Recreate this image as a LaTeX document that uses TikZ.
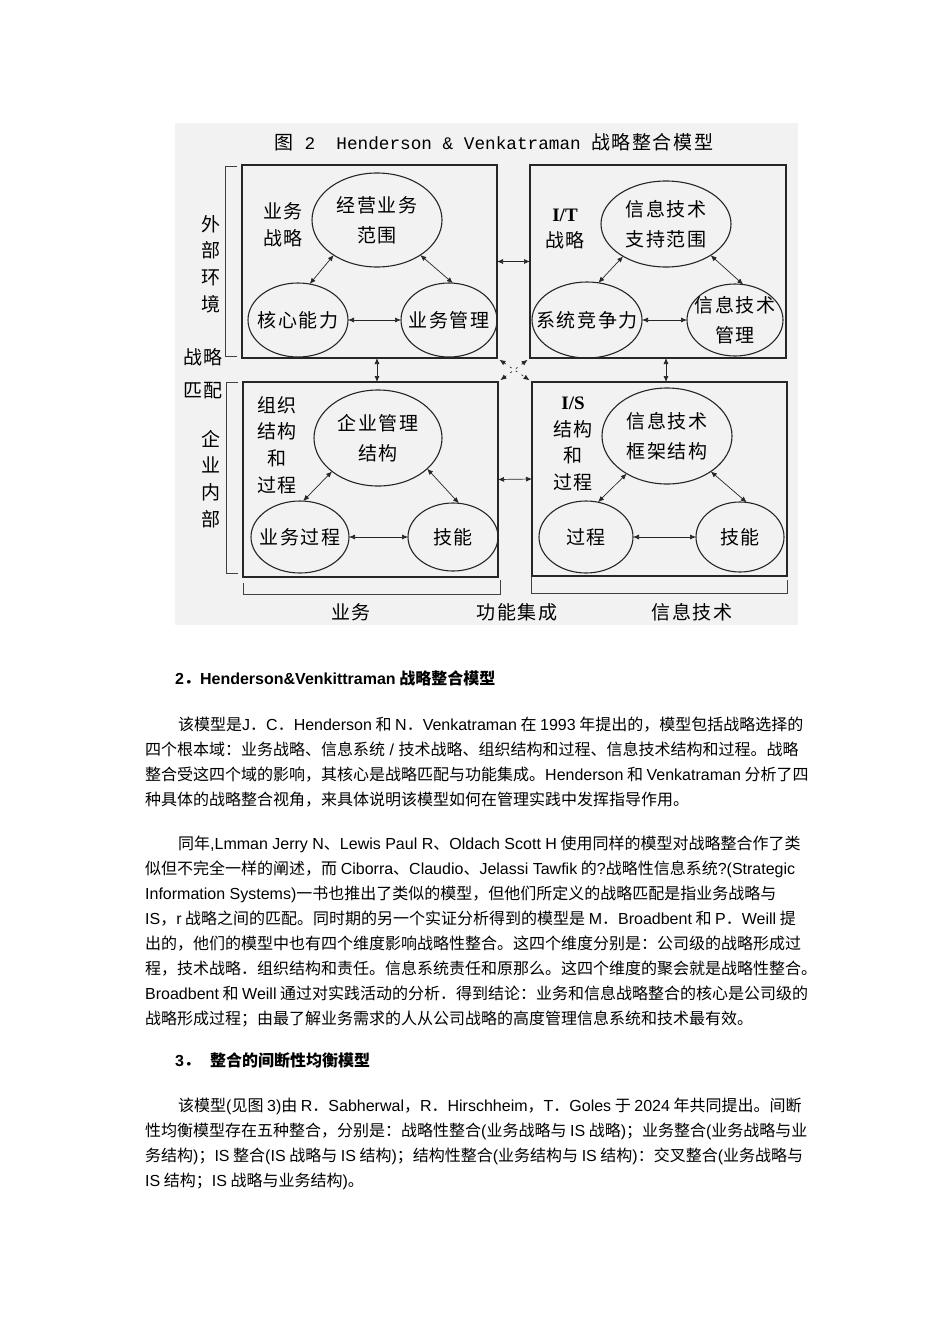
\documentclass[tikz,border=0pt]{standalone}
\usepackage{fontspec}
\setmainfont{Noto Sans CJK SC}
\newfontfamily\latfont{Liberation Sans}
\newfontfamily\monofig{Liberation Mono}
\newfontfamily\seriffig{Liberation Serif}
\newfontfamily\cjkfig{Noto Sans CJK SC}[LetterSpace=8]
\newcommand\enw[1]{{\latfont #1}}
\usetikzlibrary{positioning,shapes.geometric,arrows.meta}

\begin{document}
\begin{tikzpicture}[x=1pt,y=-1pt,
    quad/.style={draw=black!85, line width=1.4pt, inner sep=0pt, outer sep=0pt},
    oval/.style 2 args={ellipse, draw=black!85, line width=1.1pt, minimum width=#1, minimum height=#2,
        inner xsep=-16pt, inner ysep=0pt, outer sep=0pt, align=center, font=\cjkfig\fontsize{19}{30}\selectfont},
    tag/.style={align=center, inner sep=0pt, font=\cjkfig\fontsize{19}{26.7}\selectfont},
    link/.style={{Latex[length=6pt,width=5pt]}-{Latex[length=6pt,width=5pt]}, line width=0.7pt, black!85},
    bracket/.style={line width=0.8pt, black!75},
    body/.style={anchor=base west, align=left, inner sep=0pt, font=\fontsize{16}{25}\selectfont}]
    \useasboundingbox[fill=white] (0,0) rectangle (950,1344);
    \fill[black!5] (175,123) rectangle (798,625);

    % figure
    \node[font=\cjkfig\fontsize{19}{22}\selectfont] (title) at (494,142)
        {图{\monofig\fontsize{17.7}{22}\selectfont\ 2\ \ Henderson \& Venkatraman\ }战略整合模型};

    \node[quad, minimum width=255pt, minimum height=193pt] (bizstrat) at (369.5,261.5) {};
    \node[quad, minimum width=256pt, minimum height=193pt] (itstrat) at (658,261.5) {};
    \node[quad, minimum width=255pt, minimum height=195pt] (orgbox) at (370.5,479.5) {};
    \node[quad, minimum width=255pt, minimum height=194pt] (isbox) at (659.5,479) {};

    \node[oval={130pt}{94pt}] (bizscope) at (377,220) {经营业务\\范围};
    \node[oval={100pt}{74pt}] (core) at (298,320) {核心能力};
    \node[oval={96pt}{74pt}] (bizgov) at (449,320) {业务管理};
    \node[oval={130pt}{86pt}] (itscope) at (666,224) {信息技术\\支持范围};
    \node[oval={110pt}{76pt}] (syscomp) at (587,320) {系统竞争力};
    \node[oval={96pt}{72pt}] (itgov) at (735,320) {信息技术\\管理};
    \node[oval={128pt}{96pt}] (orgstruct) at (378,438) {企业管理\\结构};
    \node[oval={98pt}{72pt}] (bizproc) at (300,537) {业务过程};
    \node[oval={90pt}{68pt}] (bizskill) at (453,537) {技能};
    \node[oval={130pt}{96pt}] (itarch) at (667,436) {信息技术\\框架结构};
    \node[oval={94pt}{72pt}] (itproc) at (586,537) {过程};
    \node[oval={88pt}{70pt}] (itskill) at (740,537) {技能};

    \node[tag] (bizstratlbl) at (283,225) {业务\\战略};
    \node[tag] (itstratlbl) at (565,229) {{\seriffig\bfseries I/T}\\战略};
    \node[tag] (orglbl) at (277,445) {组织\\结构\\和\\过程};
    \node[tag] (islbl) at (573,444) {{\seriffig\bfseries I/S}\\结构\\和\\过程};

    \node[tag] (external) at (211,264) {外\\部\\环\\境};
    \node[tag, font=\cjkfig\fontsize{19}{33}\selectfont] (fit) at (203,374) {战略\\匹配};
    \node[tag] (internal) at (211,479) {企\\业\\内\\部};
    \node[tag] (bizaxis) at (351,612) {业务};
    \node[tag] (integ) at (517,612) {功能集成};
    \node[tag] (itaxis) at (692,612) {信息技术};

    \draw[link] (bizscope.-141) -- (core.72);
    \draw[link] (bizscope.-39) -- (bizgov.84);
    \draw[link] (core.east) -- (bizgov.west);
    \draw[link] (itscope.-143) -- (syscomp.73);
    \draw[link] (itscope.-35) -- (itgov.77);
    \draw[link] (syscomp.east) -- (itgov.west);
    \draw[link] (orgstruct.-144) -- (bizproc.85);
    \draw[link] (orgstruct.-32) -- (bizskill.80);
    \draw[link] (bizproc.east) -- (bizskill.west);
    \draw[link] (itarch.-137) -- (itproc.71);
    \draw[link] (itarch.-39) -- (itskill.79);
    \draw[link] (itproc.east) -- (itskill.west);

    \draw[link] (bizstrat.east) -- (itstrat.west);
    \draw[link] (orgbox.east) -- (isbox.west);
    \draw[link] (bizstrat.south -| bizscope) -- (orgbox.north -| bizscope);
    \draw[link] (itstrat.south -| itscope) -- (isbox.north -| itscope);
    \draw[link, dash pattern=on 2pt off 5pt, shorten <=3pt, shorten >=3pt] (bizstrat.south east) -- (isbox.north west);
    \draw[link, dash pattern=on 2pt off 5pt, shorten <=3pt, shorten >=3pt] (itstrat.south west) -- (orgbox.north east);

    \draw[bracket] (237,166) -- (225,166) -- (225,356) -- (237,356);
    \draw[bracket] (238,382) -- (226,382) -- (226,573) -- (238,573);
    \draw[bracket] (243,583) -- (243,594) -- (500,594) -- (500,580);
    \draw[bracket] (531,577) -- (531,593) -- (787,593) -- (787,580);

    % text (base anchor sits on the last line)
    \node[body, font=\bfseries\fontsize{16}{25}\selectfont] (head2) at (175,684)
        {\enw{2}．\enw{Henderson\&Venkittraman} 战略整合模型};
    \node[body] (para1) at (145,805) {\hspace*{33pt}该模型是\enw{J}．\enw{C}．\enw{Henderson} 和 \enw{N}．\enw{Venkatraman} 在 \enw{1993} 年提出的，模型包括战略选择的\\
        四个根本域：业务战略、信息系统\enw{ / }技术战略、组织结构和过程、信息技术结构和过程。战略\\
        整合受这四个域的影响，其核心是战略匹配与功能集成。\enw{Henderson} 和 \enw{Venkatraman} 分析了四\\
        种具体的战略整合视角，来具体说明该模型如何在管理实践中发挥指导作用。};
    \node[body] (para2) at (145,1024) {\hspace*{33pt}同年\enw{,Lmman Jerry N}、\enw{Lewis Paul R}、\enw{Oldach Scott H} 使用同样的模型对战略整合作了类\\
        似但不完全一样的阐述，而 \enw{Ciborra}、\enw{Claudio}、\enw{Jelassi Tawfik} 的\enw{?}战略性信息系统\enw{?(Strategic}\\
        \enw{Information Systems)}一书也推出了类似的模型，但他们所定义的战略匹配是指业务战略与\\
        \enw{IS}，\enw{r} 战略之间的匹配。同时期的另一个实证分析得到的模型是 \enw{M}．\enw{Broadbent} 和 \enw{P}．\enw{Weill} 提\\
        出的，他们的模型中也有四个维度影响战略性整合。这四个维度分别是：公司级的战略形成过\\
        程，技术战略．组织结构和责任。信息系统责任和原那么。这四个维度的聚会就是战略性整合。\\
        \enw{Broadbent} 和 \enw{Weill} 通过对实践活动的分析．得到结论：业务和信息战略整合的核心是公司级的\\
        战略形成过程；由最了解业务需求的人从公司战略的高度管理信息系统和技术最有效。};
    \node[body, font=\bfseries\fontsize{16}{25}\selectfont] (head3) at (175,1066)
        {\enw{3}．\hspace{10pt}整合的间断性均衡模型};
    \node[body] (para3) at (145,1186) {\hspace*{33pt}该模型\enw{(}见图 \enw{3)}由 \enw{R}．\enw{Sabherwal}，\enw{R}．\enw{Hirschheim}，\enw{T}．\enw{Goles} 于 \enw{2024} 年共同提出。间断\\
        性均衡模型存在五种整合，分别是：战略性整合\enw{(}业务战略与 \enw{IS} 战略\enw{)}；业务整合\enw{(}业务战略与业\\
        务结构\enw{)}；\enw{IS} 整合\enw{(IS} 战略与 \enw{IS} 结构\enw{)}；结构性整合\enw{(}业务结构与 \enw{IS} 结构\enw{)}：交叉整合\enw{(}业务战略与\\
        \enw{IS} 结构；\enw{IS} 战略与业务结构\enw{)}。};
\end{tikzpicture}
\end{document}
